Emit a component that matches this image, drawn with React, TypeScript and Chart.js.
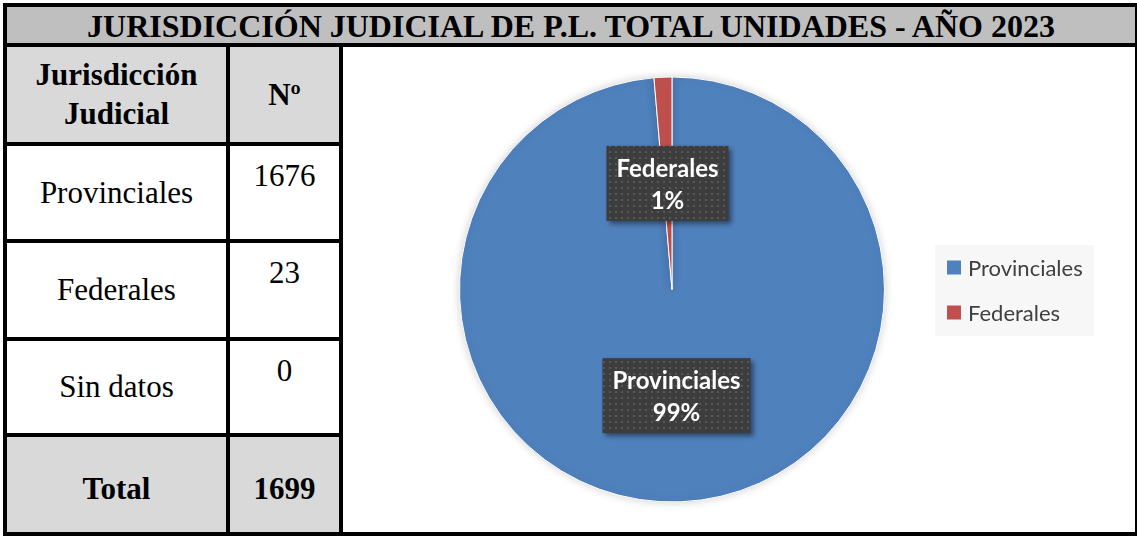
import React, { useEffect, useRef } from "react";
import { Chart, registerables } from "chart.js";

Chart.register(...registerables);

const titleText = "JURISDICCIÓN JUDICIAL DE P.L. TOTAL UNIDADES - AÑO 2023";
const headerLabels = ["Jurisdicción", "Judicial"];
const headerNumber = "Nº";
const rowLabels = ["Provinciales", "Federales", "Sin datos"];
const rowValues = [1676, 23, 0];
const totalLabel = "Total";
const totalValue = 1699;

const pieLabels = ["Provinciales", "Federales"];
const pieValues = [1676, 23];
const pieColors = ["#4F81BD", "#C0504D"];

const SERIF = "'Liberation Serif', 'Times New Roman', serif";
const SANS = "Lato, 'Noto Sans', sans-serif";

function makePattern(ctx: CanvasRenderingContext2D) {
  const c = document.createElement("canvas");
  c.width = 6;
  c.height = 6;
  const p = c.getContext("2d")!;
  p.fillStyle = "#3d3d3d";
  p.fillRect(0, 0, 6, 6);
  p.fillStyle = "#575757";
  p.fillRect(2, 2, 2, 2);
  return ctx.createPattern(c, "repeat");
}

const labelPlugin = {
  id: "boxLabels",
  afterDatasetsDraw(chart: any) {
    const ctx = chart.ctx as CanvasRenderingContext2D;
    const meta = chart.getDatasetMeta(0);
    const data = chart.data.datasets[0].data as number[];
    const total = data.reduce((a, b) => a + b, 0);
    const pattern = makePattern(ctx);
    meta.data.forEach((arc: any, i: number) => {
      const pos = arc.tooltipPosition();
      const l1 = String(chart.data.labels[i]);
      const l2 = Math.round((data[i] / total) * 100) + "%";
      ctx.save();
      ctx.font = `bold 24px ${SANS}`;
      const w = Math.max(ctx.measureText(l1).width, ctx.measureText(l2).width) + 20;
      const h = 75;
      const x = pos.x - w / 2;
      const y = pos.y - h / 2;
      ctx.shadowColor = "rgba(0,0,0,0.45)";
      ctx.shadowBlur = 5;
      ctx.shadowOffsetX = 3;
      ctx.shadowOffsetY = 3;
      ctx.fillStyle = pattern || "#404040";
      ctx.fillRect(x, y, w, h);
      ctx.shadowColor = "transparent";
      ctx.fillStyle = "#ffffff";
      ctx.textAlign = "center";
      ctx.textBaseline = "alphabetic";
      ctx.fillText(l1, pos.x, y + 31);
      ctx.fillText(l2, pos.x, y + 63);
      ctx.restore();
    });
  },
};

const legendPlugin = {
  id: "sideLegend",
  afterDraw(chart: any) {
    const ctx = chart.ctx as CanvasRenderingContext2D;
    const labels = chart.data.labels as string[];
    const colors = chart.data.datasets[0].backgroundColor as string[];
    ctx.save();
    ctx.fillStyle = "#f7f7f7";
    ctx.fillRect(592, 198, 159, 91);
    ctx.font = `22px ${SANS}`;
    ctx.textBaseline = "middle";
    ctx.textAlign = "left";
    labels.forEach((lab, i) => {
      const cy = 220.5 + i * 45;
      ctx.fillStyle = colors[i];
      ctx.fillRect(604, cy - 7, 14, 14);
      ctx.fillStyle = "#404040";
      ctx.fillText(lab, 625, cy + 1);
    });
    ctx.restore();
  },
};

const shadowPlugin = {
  id: "pieShadow",
  beforeDatasetsDraw(chart: any) {
    const ctx = chart.ctx as CanvasRenderingContext2D;
    ctx.save();
    ctx.shadowColor = "rgba(0,0,0,0.18)";
    ctx.shadowBlur = 10;
  },
  afterDatasetsDraw(chart: any) {
    chart.ctx.restore();
  },
};

function Line({ x, y, w, h }: { x: number; y: number; w: number; h: number }) {
  return <div style={{ position: "absolute", left: x, top: y, width: w, height: h, background: "#000" }} />;
}

function Cell({
  x, y, w, h, children, style,
}: { x: number; y: number; w: number; h: number; children?: React.ReactNode; style?: React.CSSProperties }) {
  return (
    <div
      style={{
        position: "absolute", left: x, top: y, width: w, height: h,
        display: "flex", alignItems: "center", justifyContent: "center",
        textAlign: "center", fontFamily: SERIF, color: "#000", ...style,
      }}
    >
      {children}
    </div>
  );
}

export default function App() {
  const canvasRef = useRef<HTMLCanvasElement | null>(null);

  useEffect(() => {
    const canvas = canvasRef.current!;
    const chart = new Chart(canvas, {
      type: "pie",
      data: {
        labels: pieLabels,
        datasets: [
          {
            data: pieValues,
            backgroundColor: pieColors,
            borderColor: "#ffffff",
            borderWidth: 1,
          },
        ],
      },
      options: {
        animation: false,
        responsive: false,
        maintainAspectRatio: false,
        layout: { padding: { left: 116, right: 250, top: 29, bottom: 29 } },
        plugins: {
          legend: { display: false },
          tooltip: { enabled: false },
        },
      },
      plugins: [shadowPlugin, labelPlugin, legendPlugin],
    });
    return () => chart.destroy();
  }, []);

  const rowTops = [146, 243, 341];
  const rowH = [93, 94, 92];

  return (
    <div style={{ position: "absolute", left: 0, top: 0, width: 1137, height: 536, overflow: "hidden", background: "#fff" }}>
      {/* backgrounds */}
      <div style={{ position: "absolute", left: 7, top: 7, width: 1128, height: 36, background: "#bfbfbf" }} />
      <div style={{ position: "absolute", left: 7, top: 47, width: 219, height: 95, background: "#d9d9d9" }} />
      <div style={{ position: "absolute", left: 230, top: 47, width: 109, height: 95, background: "#d9d9d9" }} />
      <div style={{ position: "absolute", left: 7, top: 437, width: 219, height: 95, background: "#d9d9d9" }} />
      <div style={{ position: "absolute", left: 230, top: 437, width: 109, height: 95, background: "#d9d9d9" }} />

      {/* title */}
      <Cell x={7} y={7} w={1128} h={36} style={{ fontWeight: "bold", fontSize: 32, lineHeight: "36px", paddingTop: 1, whiteSpace: "nowrap" }}>
        {titleText}
      </Cell>

      {/* header */}
      <Cell x={7} y={47} w={219} h={95} style={{ fontWeight: "bold", fontSize: 31, lineHeight: "39px" }}>
        <div style={{ marginTop: -2 }}>
          {headerLabels[0]}
          <br />
          {headerLabels[1]}
        </div>
      </Cell>
      <Cell x={230} y={47} w={109} h={95} style={{ fontWeight: "bold", fontSize: 31 }}>
        {headerNumber}
      </Cell>

      {/* rows */}
      {rowLabels.map((lab, i) => (
        <React.Fragment key={lab}>
          <Cell x={7} y={rowTops[i]} w={219} h={rowH[i]} style={{ fontSize: 31 }}>
            {lab}
          </Cell>
          <div
            style={{
              position: "absolute", left: 230, top: rowTops[i] + 12, width: 109,
              textAlign: "center", fontFamily: SERIF, fontSize: 31, lineHeight: "36px",
            }}
          >
            {rowValues[i]}
          </div>
        </React.Fragment>
      ))}

      {/* total */}
      <Cell x={7} y={437} w={219} h={95} style={{ fontWeight: "bold", fontSize: 31, paddingTop: 4 }}>
        {totalLabel}
      </Cell>
      <Cell x={230} y={437} w={109} h={95} style={{ fontWeight: "bold", fontSize: 31, paddingTop: 4 }}>
        {totalValue}
      </Cell>

      {/* chart */}
      <canvas
        ref={canvasRef}
        width={792}
        height={485}
        style={{ position: "absolute", left: 343, top: 47, width: 792, height: 485 }}
      />

      {/* lines */}
      <Line x={3} y={3} w={1140} h={4} />
      <Line x={3} y={3} w={4} h={533} />
      <Line x={1135} y={3} w={6} h={533} />
      <Line x={3} y={532} w={1140} h={4} />
      <Line x={3} y={43} w={1140} h={4} />
      <Line x={226} y={47} w={4} h={485} />
      <Line x={339} y={47} w={4} h={485} />
      <Line x={3} y={142} w={340} h={4} />
      <Line x={3} y={239} w={340} h={4} />
      <Line x={3} y={337} w={340} h={4} />
      <Line x={3} y={433} w={340} h={4} />
    </div>
  );
}
